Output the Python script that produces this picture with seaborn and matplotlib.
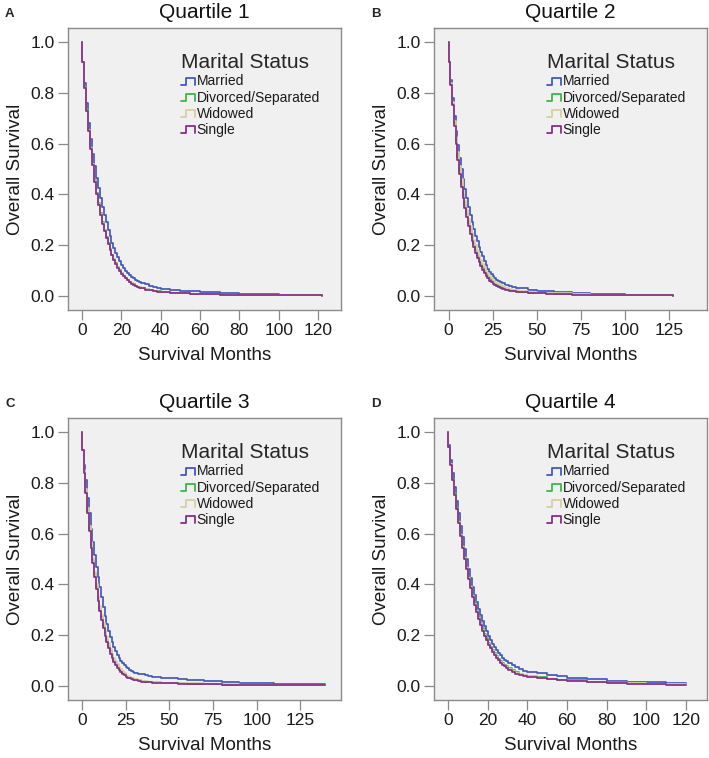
import pandas as pd
import matplotlib.pyplot as plt
import seaborn as sns
from matplotlib.legend_handler import HandlerBase
from matplotlib.lines import Line2D

sns.set_theme(style="ticks")
plt.rcParams["font.family"] = ["Liberation Sans", "DejaVu Sans"]

# survival months (first two points: start at 1.0 then events at month 0)
months = [0, 0, 1, 2, 3, 4, 5, 6, 7, 8, 9, 10,
          11, 12, 13, 14, 15, 16, 17, 18, 19, 20,
          21, 22, 23, 24, 25, 26, 27, 28, 29, 30,
          32, 34, 36, 38, 40,
          45, 50, 55, 60, 70, 80, 90, 100, 110]
end_months = [122, 127.5, 139, 120]

statuses = ["Married", "Divorced/Separated", "Widowed", "Single"]
colors = ["#4259B8", "#3FB449", "#D8CFA0", "#852F86"]
titles = ["Quartile 1", "Quartile 2", "Quartile 3", "Quartile 4"]
letters = ["A", "B", "C", "D"]
xticks = [[0, 20, 40, 60, 80, 100, 120],
          [0, 25, 50, 75, 100, 125],
          [0, 25, 50, 75, 100, 125],
          [0, 20, 40, 60, 80, 100, 120]]
xlims = [(-7.1, 131.7), (-8.3, 146.6), (-8.0, 148.3), (-7.1, 130.6)]

# Quartile 1
q1_married = [1.0, 0.92,
              0.84, 0.76, 0.68, 0.62, 0.56, 0.51, 0.465, 0.425, 0.385, 0.35,
              0.32, 0.29, 0.26, 0.235, 0.21, 0.19, 0.17, 0.152, 0.137, 0.123,
              0.11, 0.099, 0.09, 0.082, 0.075, 0.069, 0.064, 0.059, 0.055, 0.052,
              0.046, 0.041, 0.036, 0.032, 0.029,
              0.025, 0.021, 0.018, 0.015, 0.011, 0.009, 0.007, 0.005, 0.004,
              0.003]
q1_divorced = [1.0, 0.92,
               0.825, 0.735, 0.655, 0.585, 0.52, 0.456, 0.405, 0.365, 0.325, 0.29,
               0.26, 0.232, 0.207, 0.184, 0.163, 0.145, 0.129, 0.115, 0.102, 0.09,
               0.08, 0.072, 0.064, 0.057, 0.051, 0.046, 0.041, 0.037, 0.034, 0.031,
               0.026, 0.023, 0.02, 0.018, 0.016,
               0.013, 0.011, 0.009, 0.008, 0.006, 0.005, 0.004, 0.003, 0.003,
               0.002]
q1_widowed = [1.0, 0.92,
              0.82, 0.73, 0.652, 0.582, 0.518, 0.453, 0.403, 0.362, 0.322, 0.288,
              0.258, 0.23, 0.205, 0.182, 0.162, 0.144, 0.128, 0.114, 0.1, 0.089,
              0.079, 0.071, 0.063, 0.056, 0.05, 0.045, 0.041, 0.037, 0.034, 0.031,
              0.026, 0.022, 0.019, 0.017, 0.015,
              0.012, 0.01, 0.009, 0.008, 0.006, 0.005, 0.004, 0.003, 0.003,
              0.002]
q1_single = [1.0, 0.92,
             0.82, 0.73, 0.65, 0.58, 0.515, 0.45, 0.40, 0.36, 0.32, 0.285,
             0.255, 0.228, 0.203, 0.18, 0.16, 0.142, 0.126, 0.112, 0.099, 0.088,
             0.078, 0.07, 0.062, 0.055, 0.049, 0.044, 0.04, 0.036, 0.033, 0.03,
             0.025, 0.022, 0.019, 0.017, 0.015,
             0.012, 0.01, 0.009, 0.008, 0.006, 0.005, 0.004, 0.003, 0.003,
             0.002]

# Quartile 2
q2_married = [1.0, 0.92,
              0.85, 0.78, 0.71, 0.65, 0.595, 0.545, 0.50, 0.46, 0.42, 0.385,
              0.35, 0.32, 0.29, 0.263, 0.238, 0.215, 0.194, 0.175, 0.157, 0.138,
              0.122, 0.108, 0.096, 0.086, 0.078, 0.071, 0.065, 0.06, 0.055, 0.051,
              0.045, 0.04, 0.036, 0.033, 0.03,
              0.025, 0.021, 0.018, 0.016, 0.012, 0.009, 0.007, 0.006, 0.005,
              0.004]
q2_divorced = [1.0, 0.92,
               0.835, 0.755, 0.68, 0.61, 0.548, 0.492, 0.442, 0.398, 0.358, 0.322,
               0.288, 0.258, 0.23, 0.205, 0.183, 0.163, 0.144, 0.128, 0.113, 0.1,
               0.088, 0.078, 0.069, 0.061, 0.054, 0.048, 0.043, 0.039, 0.035, 0.032,
               0.027, 0.023, 0.02, 0.018, 0.016,
               0.013, 0.011, 0.01, 0.009, 0.007, 0.005, 0.004, 0.003, 0.003,
               0.002]
q2_widowed = [1.0, 0.92,
              0.84, 0.765, 0.69, 0.625, 0.565, 0.51, 0.46, 0.415, 0.375, 0.34,
              0.305, 0.275, 0.247, 0.222, 0.2, 0.179, 0.16, 0.143, 0.127, 0.113,
              0.1, 0.089, 0.079, 0.07, 0.063, 0.057, 0.051, 0.046, 0.042, 0.038,
              0.032, 0.028, 0.025, 0.022, 0.02,
              0.016, 0.013, 0.011, 0.01, 0.008, 0.006, 0.005, 0.004, 0.003,
              0.003]
q2_single = [1.0, 0.92,
             0.83, 0.75, 0.67, 0.60, 0.535, 0.48, 0.43, 0.385, 0.345, 0.31,
             0.275, 0.245, 0.218, 0.193, 0.171, 0.151, 0.133, 0.117, 0.103, 0.09,
             0.079, 0.069, 0.061, 0.054, 0.048, 0.043, 0.038, 0.034, 0.031, 0.028,
             0.024, 0.02, 0.018, 0.016, 0.014,
             0.012, 0.01, 0.009, 0.008, 0.006, 0.005, 0.004, 0.003, 0.003,
             0.002]

# Quartile 3
q3_married = [1.0, 0.93,
              0.87, 0.81, 0.74, 0.68, 0.62, 0.565, 0.515, 0.47, 0.43, 0.39,
              0.35, 0.31, 0.275, 0.245, 0.217, 0.193, 0.172, 0.153, 0.137, 0.123,
              0.11, 0.099, 0.09, 0.082, 0.075, 0.069, 0.064, 0.06, 0.056, 0.053,
              0.049, 0.046, 0.043, 0.04, 0.037,
              0.033, 0.03, 0.027, 0.024, 0.019, 0.015, 0.012, 0.01, 0.008,
              0.006]
q3_divorced = [1.0, 0.93,
               0.845, 0.765, 0.69, 0.62, 0.555, 0.495, 0.44, 0.39, 0.345, 0.305,
               0.27, 0.238, 0.208, 0.182, 0.158, 0.137, 0.118, 0.102, 0.089, 0.078,
               0.068, 0.06, 0.052, 0.046, 0.041, 0.037, 0.033, 0.03, 0.027, 0.025,
               0.022, 0.019, 0.017, 0.015, 0.014,
               0.012, 0.011, 0.01, 0.009, 0.007, 0.006, 0.005, 0.004, 0.004,
               0.003]
q3_widowed = [1.0, 0.93,
              0.85, 0.775, 0.70, 0.63, 0.565, 0.505, 0.45, 0.40, 0.355, 0.315,
              0.28, 0.248, 0.218, 0.192, 0.168, 0.146, 0.127, 0.111, 0.097, 0.085,
              0.075, 0.066, 0.058, 0.051, 0.045, 0.04, 0.036, 0.033, 0.03, 0.028,
              0.024, 0.021, 0.019, 0.017, 0.016,
              0.013, 0.012, 0.011, 0.01, 0.008, 0.007, 0.006, 0.005, 0.004,
              0.004]
q3_single = [1.0, 0.93,
             0.84, 0.76, 0.68, 0.61, 0.545, 0.485, 0.43, 0.38, 0.335, 0.295,
             0.26, 0.228, 0.198, 0.172, 0.149, 0.128, 0.11, 0.095, 0.082, 0.071,
             0.062, 0.054, 0.047, 0.042, 0.037, 0.033, 0.03, 0.027, 0.025, 0.023,
             0.02, 0.017, 0.015, 0.014, 0.013,
             0.011, 0.01, 0.009, 0.008, 0.007, 0.006, 0.005, 0.004, 0.004,
             0.003]

# Quartile 4
q4_married = [1.0, 0.95,
              0.89, 0.84, 0.785, 0.73, 0.68, 0.63, 0.585, 0.54, 0.50, 0.46,
              0.425, 0.39, 0.36, 0.33, 0.305, 0.28, 0.257, 0.236, 0.216, 0.198,
              0.182, 0.167, 0.154, 0.142, 0.131, 0.121, 0.112, 0.104, 0.097, 0.091,
              0.081, 0.073, 0.066, 0.061, 0.057,
              0.05, 0.044, 0.038, 0.033, 0.026, 0.021, 0.017, 0.014, 0.011,
              0.009]
q4_divorced = [1.0, 0.94,
               0.875, 0.815, 0.758, 0.703, 0.65, 0.6, 0.553, 0.508, 0.468, 0.43,
               0.394, 0.36, 0.33, 0.3, 0.274, 0.249, 0.227, 0.206, 0.188, 0.171,
               0.155, 0.141, 0.129, 0.118, 0.108, 0.099, 0.09, 0.083, 0.077, 0.071,
               0.062, 0.054, 0.048, 0.044, 0.04,
               0.034, 0.029, 0.025, 0.022, 0.017, 0.014, 0.011, 0.009, 0.007,
               0.006]
q4_widowed = [1.0, 0.94,
              0.872, 0.812, 0.753, 0.698, 0.645, 0.595, 0.548, 0.503, 0.463, 0.424,
              0.388, 0.354, 0.324, 0.294, 0.268, 0.243, 0.221, 0.201, 0.183, 0.166,
              0.151, 0.137, 0.125, 0.114, 0.104, 0.095, 0.087, 0.08, 0.074, 0.068,
              0.059, 0.052, 0.046, 0.042, 0.038,
              0.032, 0.027, 0.023, 0.02, 0.016, 0.013, 0.01, 0.008, 0.007,
              0.005]
q4_single = [1.0, 0.94,
             0.87, 0.81, 0.75, 0.695, 0.642, 0.592, 0.545, 0.50, 0.46, 0.42,
             0.385, 0.35, 0.32, 0.29, 0.265, 0.24, 0.218, 0.198, 0.18, 0.163,
             0.148, 0.134, 0.122, 0.111, 0.101, 0.092, 0.084, 0.077, 0.071, 0.065,
             0.056, 0.049, 0.044, 0.04, 0.036,
             0.03, 0.026, 0.022, 0.019, 0.015, 0.012, 0.009, 0.007, 0.006,
             0.005]

panels = [
    [q1_married, q1_divorced, q1_widowed, q1_single],
    [q2_married, q2_divorced, q2_widowed, q2_single],
    [q3_married, q3_divorced, q3_widowed, q3_single],
    [q4_married, q4_divorced, q4_widowed, q4_single],
]


class StepHandler(HandlerBase):
    # small step glyph used as legend key
    def create_artists(self, legend, orig_handle, xdescent, ydescent,
                       width, height, fontsize, trans):
        x0, y0 = -xdescent, -ydescent
        lo, hi = y0 + 0.1 * height, y0 + 0.8 * height
        xs = [x0, x0 + 0.3 * width, x0 + 0.3 * width, x0 + width, x0 + width]
        ys = [lo, lo, hi, hi, lo]
        line = Line2D(xs, ys, color=orig_handle.get_color(), lw=1.3,
                      transform=trans)
        return [line]


fig = plt.figure(figsize=(7.09, 7.58), dpi=100)
W, H = 709, 758
boxes = [(68, 28), (434, 28), (68, 418), (434, 418)]
bw, bh = 273, 282

for i, (left, top) in enumerate(boxes):
    ax = fig.add_axes([left / W, 1 - (top + bh) / H, bw / W, bh / H])
    frames = []
    for status, vals in zip(statuses, panels[i]):
        frames.append(pd.DataFrame({
            "month": months + [end_months[i]],
            "survival": vals,
            "status": status,
        }))
    df = pd.concat(frames, ignore_index=True)

    sns.lineplot(data=df, x="month", y="survival", hue="status",
                 hue_order=statuses, palette=colors, sort=False,
                 estimator=None, drawstyle="steps-post", linewidth=1.25,
                 legend=False, ax=ax)

    ax.set_facecolor("#F0F0F0")
    for sp in ax.spines.values():
        sp.set_visible(True)
        sp.set_color("#8A8A8A")
        sp.set_linewidth(1.0)
    ax.set_xlim(*xlims[i])
    ax.set_ylim(-0.055, 1.055)
    ax.set_xticks(xticks[i])
    ax.set_yticks([0.0, 0.2, 0.4, 0.6, 0.8, 1.0])
    ax.set_yticklabels(["0.0", "0.2", "0.4", "0.6", "0.8", "1.0"])
    ax.tick_params(direction="out", length=7.5, width=0.9, color="#8A8A8A",
                   labelsize=12.5, labelcolor="#1a1a1a", pad=2)
    ax.set_xlabel("Survival Months", fontsize=13.5, color="#1a1a1a", labelpad=6)
    ax.set_ylabel("Overall Survival", fontsize=13.5, color="#1a1a1a", labelpad=5)
    ax.set_title(titles[i], fontsize=15, color="#111111", pad=7)

    handles = [Line2D([], [], color=c) for c in colors]
    leg = ax.legend(handles, statuses, title="Marital Status",
                    loc="upper left", bbox_to_anchor=(0.39, 0.935),
                    frameon=False, fontsize=10, title_fontsize=15,
                    alignment="left", borderpad=0, labelspacing=0.16,
                    handlelength=1.0, handletextpad=0.1,
                    handler_map={Line2D: StepHandler()})
    for t in leg.get_texts():
        t.set_color("#1a1a1a")

    fig.text((left - 63) / W, 1 - (top - 20) / H, letters[i],
             fontsize=9.5, fontweight="bold", va="top", ha="left")

fig.savefig("out.png", dpi=100, facecolor="white")
